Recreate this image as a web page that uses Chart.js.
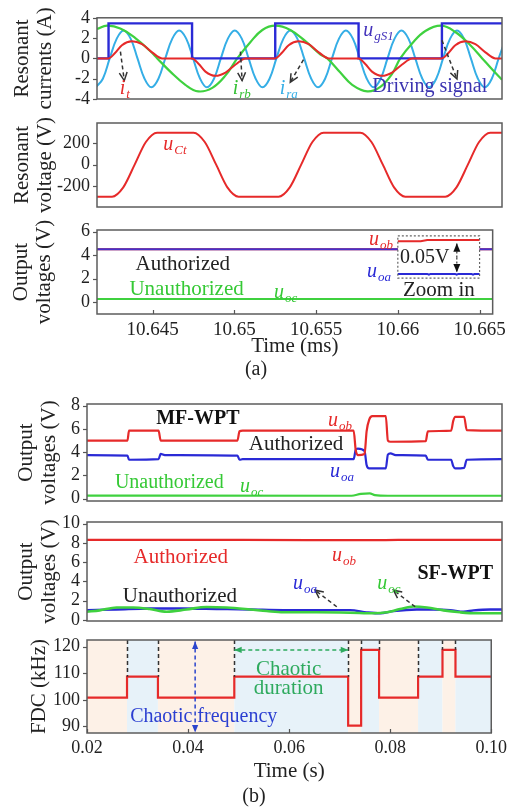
<!DOCTYPE html>
<html>
<head>
<meta charset="utf-8">
<script src="https://cdn.jsdelivr.net/npm/chart.js@4.4.1/dist/chart.umd.min.js"></script>
<style>
  html, body { margin: 0; padding: 0; background: #fff; }
  #wrap { position: relative; width: 511px; height: 808px; overflow: hidden; }
  canvas { position: absolute; left: 0; top: 0; }
</style>
</head>
<body>
<div id="wrap">
  <canvas id="a1" width="511" height="808"></canvas>
  <canvas id="a2" width="511" height="808"></canvas>
  <canvas id="a3" width="511" height="808"></canvas>
  <canvas id="b1" width="511" height="808"></canvas>
  <canvas id="b2" width="511" height="808"></canvas>
  <canvas id="b3" width="511" height="808"></canvas>
</div>
<script>
const SERIF = '"Liberation Serif", "Times New Roman", serif';

// ---------- (a) time axis, ms ----------
const aTicks = [10.645, 10.65, 10.655, 10.66, 10.665];
const aTickLabels = ['10.645', '10.65', '10.655', '10.66', '10.665'];

// driving signal u_gS1
const aGateT = [10.6416, 10.64229, 10.64229, 10.64728, 10.64728, 10.65225, 10.65225, 10.65723, 10.65723, 10.66221, 10.66221, 10.6658];
const aGateV = [0, 0, 3.45, 3.45, 0, 0, 3.45, 3.45, 0, 0, 3.45, 3.45];

// i_t
const aItT = [10.6416, 10.64229, 10.64269, 10.64309, 10.64369, 10.64429, 10.64489, 10.64549,
  10.64728, 10.64768, 10.64808, 10.64868, 10.64928, 10.64988, 10.65048,
  10.65225, 10.65265, 10.65305, 10.65365, 10.65425, 10.65485, 10.65545,
  10.65723, 10.65763, 10.65803, 10.65863, 10.65923, 10.65983, 10.66043,
  10.66221, 10.66261, 10.66301, 10.66361, 10.66421, 10.66481, 10.66541, 10.6658];
const aItV = [0, 0, 0.55, 1.3, 1.68, 1.4, 0.6, 0,
  0, -0.55, -1.3, -1.72, -1.4, -0.6, 0,
  0, 0.55, 1.3, 1.68, 1.4, 0.6, 0,
  0, -0.55, -1.3, -1.72, -1.4, -0.6, 0,
  0, 0.55, 1.3, 1.68, 1.4, 0.6, 0, 0];

// i_rb
const aRbT = [10.6416, 10.6422, 10.64299, 10.64389, 10.64479, 10.6452, 10.64598, 10.64688, 10.64765, 10.64849, 10.64927, 10.64998,
  10.65076, 10.65148, 10.65225, 10.65315, 10.65405, 10.65494, 10.65536, 10.65614, 10.65685, 10.65775, 10.65853, 10.65924, 10.65972,
  10.66044, 10.66122, 10.66217, 10.66301, 10.66391, 10.66462, 10.66522, 10.6658];
const aRbV = [2.9, 3.22, 2.95, 2.0, 0.7, 0, -1.3, -2.6, -3.25, -2.9, -1.7, 0,
  1.6, 2.8, 3.22, 2.8, 1.7, 0.4, 0, -1.4, -2.6, -3.25, -2.8, -1.5, 0,
  1.5, 2.7, 3.22, 2.6, 1.3, 0, -1.1, -2.1];

// i_ra
const aRaT = [10.64153, 10.64195, 10.64236, 10.64278, 10.64319, 10.64361, 10.64402, 10.64444,
  10.64485, 10.64527, 10.64568, 10.6461, 10.64651, 10.64693, 10.64734, 10.64776,
  10.64817, 10.64859, 10.649, 10.64942, 10.64983, 10.65025, 10.65066, 10.65108,
  10.65149, 10.65191, 10.65232, 10.65274, 10.65315, 10.65357, 10.65398, 10.6544,
  10.65481, 10.65523, 10.65564, 10.65606, 10.65647, 10.65689, 10.6573, 10.65772,
  10.65813, 10.65855, 10.65896, 10.65938, 10.65979, 10.66021, 10.66062, 10.66104,
  10.66145, 10.66187, 10.66228, 10.6627, 10.66311, 10.66353, 10.66394, 10.66436,
  10.66477, 10.66519, 10.6656, 10.66602];
const aRaV = [-2.85, -2.0, 0, 1.95, 2.75, 1.95, 0, -2.0,
  -2.85, -2.0, 0, 1.95, 2.75, 1.95, 0, -2.0,
  -2.85, -2.0, 0, 1.95, 2.75, 1.95, 0, -2.0,
  -2.85, -2.0, 0, 1.95, 2.75, 1.95, 0, -2.0,
  -2.85, -2.0, 0, 1.95, 2.75, 1.95, 0, -2.0,
  -2.85, -2.0, 0, 1.95, 2.75, 1.95, 0, -2.0,
  -2.85, -2.0, 0, 1.95, 2.75, 1.95, 0, -2.0,
  -2.85, -2.0, 0, 1.95];

// u_Ct
const aCtT = [10.6416, 10.6425, 10.64317, 10.64385, 10.64452, 10.64519,
  10.64737, 10.64804, 10.64872, 10.64939, 10.65006,
  10.65245, 10.65312, 10.6538, 10.65447, 10.65514,
  10.65733, 10.658, 10.65868, 10.65935, 10.66002,
  10.66241, 10.66308, 10.66376, 10.66443, 10.6651, 10.6658];
const aCtV = [-295, -295, -209, 0, 209, 295,
  295, 209, 0, -209, -295,
  -295, -209, 0, 209, 295,
  295, 209, 0, -209, -295,
  -295, -209, 0, 209, 295, 295];

// output voltages (a)
const aObT = [10.6416, 10.66, 10.6625, 10.665, 10.6658];
const aObV = [4.5, 4.5, null, 4.5, 4.5];
const aOaT = [10.6416, 10.66, 10.6625, 10.665, 10.6658];
const aOaV = [4.5, 4.5, null, 4.5, 4.5];
const aOcT = [10.6416, 10.6658];
const aOcV = [0.27, 0.27];
const aObZoomT = [10.66, 10.6614, 10.6618, 10.665];
const aObZoomV = [5.2, 5.2, 5.3, 5.3];
const aOaZoomT = [10.66, 10.6618, 10.6619, 10.662, 10.6635, 10.6636, 10.6637, 10.6645, 10.6646, 10.6647, 10.665];
const aOaZoomV = [2.4, 2.4, 2.33, 2.4, 2.4, 2.33, 2.4, 2.4, 2.33, 2.4, 2.4];

// ---------- (b) time axis, s ----------
const bTicks = [0.02, 0.04, 0.06, 0.08, 0.1];
const bTickLabels = ['0.02', '0.04', '0.06', '0.08', '0.10'];

const mfObT = [0.02, 0.0278, 0.0281, 0.0338, 0.0342, 0.049, 0.0494, 0.05, 0.0714, 0.0718, 0.0722, 0.0735, 0.0739, 0.0744, 0.075,
  0.0776, 0.078, 0.0785, 0.0853, 0.0857, 0.0902, 0.0906, 0.091, 0.0927, 0.0932, 0.1];
const mfObV = [5.0, 5.0, 5.85, 5.85, 5.0, 5.0, 5.8, 5.85, 5.85, 4.2, 3.75, 3.85, 5.8, 6.8, 7.1,
  7.1, 5.0, 4.9, 4.95, 5.8, 5.85, 6.7, 7.05, 7.05, 5.9, 5.85];
const mfOaT = [0.02, 0.0278, 0.0281, 0.0338, 0.0342, 0.035, 0.049, 0.0494, 0.05, 0.0714, 0.0718, 0.0722, 0.0735, 0.0739, 0.0744,
  0.0776, 0.078, 0.0785, 0.0795, 0.0853, 0.0857, 0.0902, 0.0906, 0.091, 0.0927, 0.0932, 0.1];
const mfOaV = [3.75, 3.7, 3.35, 3.4, 3.85, 3.75, 3.7, 3.35, 3.4, 3.4, 4.2, 4.3, 4.1, 2.9, 2.6,
  2.6, 3.8, 3.9, 3.75, 3.7, 3.35, 3.35, 2.8, 2.6, 2.65, 3.35, 3.4];
const mfOcT = [0.02, 0.071, 0.0728, 0.0745, 0.0755, 0.078, 0.1];
const mfOcV = [0.27, 0.25, 0.42, 0.45, 0.3, 0.25, 0.25];

const sfObT = [0.02, 0.05, 0.075, 0.08, 0.1];
const sfObV = [8.32, 8.32, 8.28, 8.32, 8.32];
const sfOaT = [0.02, 0.02567, 0.0321, 0.03853, 0.04498, 0.05141, 0.05784, 0.06429, 0.07071, 0.07394, 0.07651, 0.07907,
  0.08359, 0.0868, 0.09002, 0.09259, 0.09452, 0.09774, 0.1];
const sfOaV = [1.03, 1.1, 1.2, 1.2, 1.15, 1.1, 1.03, 1.03, 1.03, 0.8, 0.7, 0.93,
  1.1, 1.1, 1.03, 0.86, 1.0, 1.1, 1.1];
const sfOcT = [0.02, 0.02245, 0.0257, 0.02888, 0.0321, 0.03533, 0.03919, 0.04305, 0.04691, 0.05141, 0.05463, 0.05784,
  0.06429, 0.07071, 0.07521, 0.0778, 0.08037, 0.08293, 0.08552, 0.08872, 0.09195, 0.09517, 0.1];
const sfOcV = [0.86, 1.0, 1.3, 1.3, 1.14, 0.86, 1.1, 1.36, 1.3, 1.1, 0.93, 0.8,
  0.8, 0.76, 0.7, 0.8, 1.14, 1.4, 1.3, 1.0, 0.8, 0.7, 0.7];

// FDC frequency steps (kHz), value holds from each time until the next
const fdcT = [0.02, 0.02792, 0.03404, 0.04915, 0.07168, 0.07425, 0.0778, 0.08552, 0.09035, 0.09292, 0.1];
const fdcV = [100.8, 108.7, 100.8, 108.7, 90.3, 118.8, 100.8, 108.7, 118.8, 108.7, 108.7];

// ---------- drawing helpers ----------
function drawLabel(ctx, X, Y, l) {
  const size = l.size || 20;
  ctx.fillStyle = l.color || '#222';
  ctx.textBaseline = 'middle';
  if (l.sub) {
    const f1 = `italic ${size}px ${SERIF}`;
    const f2 = `italic ${Math.round(size * 0.66)}px ${SERIF}`;
    ctx.font = f1;
    const w1 = ctx.measureText(l.text).width;
    ctx.font = f2;
    const w2 = ctx.measureText(l.sub).width;
    const sx = l.align === 'center' ? X - (w1 + w2) / 2 : X;
    ctx.textAlign = 'left';
    ctx.font = f1;
    ctx.fillText(l.text, sx, Y);
    ctx.font = f2;
    ctx.fillText(l.sub, sx + w1 + 1, Y + size * 0.3);
  } else {
    ctx.font = `${l.bold ? 'bold ' : ''}${size}px ${SERIF}`;
    ctx.textAlign = l.align || 'center';
    ctx.fillText(l.text, X, Y);
  }
}

function drawHead(ctx, X, Y, ang, s) {
  const L = s.len || 9, W = s.open ? 0.45 : 0.4;
  const ax = X - L * Math.cos(ang - W), ay = Y - L * Math.sin(ang - W);
  const bx = X - L * Math.cos(ang + W), by = Y - L * Math.sin(ang + W);
  ctx.beginPath();
  ctx.moveTo(ax, ay);
  ctx.lineTo(X, Y);
  ctx.lineTo(bx, by);
  if (s.open) {
    ctx.stroke();
  } else {
    ctx.closePath();
    ctx.fill();
  }
}

function drawArrow(ctx, X0, Y0, X1, Y1, s) {
  ctx.strokeStyle = s.color;
  ctx.fillStyle = s.color;
  ctx.lineWidth = s.width || 1.5;
  ctx.setLineDash(s.dash || []);
  ctx.beginPath();
  ctx.moveTo(X0, Y0);
  ctx.lineTo(X1, Y1);
  ctx.stroke();
  ctx.setLineDash([]);
  const ang = Math.atan2(Y1 - Y0, X1 - X0);
  drawHead(ctx, X1, Y1, ang, s);
  if (s.both) drawHead(ctx, X0, Y0, ang + Math.PI, s);
}

const decorCfg = {};

const decor = {
  id: 'decor',
  beforeDatasetsDraw(chart) {
    const o = decorCfg[chart.canvas.id];
    if (!o || !o.bands) return;
    const {ctx, chartArea: a, scales: {x}} = chart;
    ctx.save();
    for (let i = 0; i < o.bands.length - 1; i++) {
      const x0 = x.getPixelForValue(o.bands[i]);
      const x1 = x.getPixelForValue(o.bands[i + 1]);
      ctx.fillStyle = i % 2 === 0 ? '#fdf1e7' : '#e7f2f9';
      ctx.fillRect(x0, a.top, x1 - x0, a.height);
    }
    ctx.restore();
  },
  afterDatasetsDraw(chart) {
    const o = decorCfg[chart.canvas.id] || {};
    const {ctx, chartArea: a, scales: {x, y}} = chart;
    const X = v => x.getPixelForValue(v), Y = v => y.getPixelForValue(v);
    ctx.save();

    // dashed drop lines at frequency switches
    if (o.drops) {
      ctx.strokeStyle = '#333';
      ctx.lineWidth = 1.5;
      ctx.setLineDash([4, 3]);
      for (let i = 1; i < o.drops.t.length - 1; i++) {
        const px = Math.round(X(o.drops.t[i])) + 0.5;
        const top = Math.max(o.drops.v[i - 1], o.drops.v[i]);
        ctx.beginPath();
        ctx.moveTo(px, a.top);
        ctx.lineTo(px, Y(top));
        ctx.stroke();
      }
      ctx.setLineDash([]);
    }

    if (o.rect) {
      ctx.strokeStyle = '#666';
      ctx.lineWidth = 1.2;
      ctx.setLineDash([2, 2]);
      const r = o.rect;
      ctx.strokeRect(X(r.x0), Y(r.y1), X(r.x1) - X(r.x0), Y(r.y0) - Y(r.y1));
      ctx.setLineDash([]);
    }

    (o.arrows || []).forEach(s => drawArrow(ctx, X(s.x0), Y(s.y0), X(s.x1), Y(s.y1), s));

    // frame, outward y ticks, inward x ticks
    ctx.setLineDash([]);
    ctx.strokeStyle = '#5c5c5c';
    ctx.lineWidth = 1.5;
    ctx.strokeRect(a.left, a.top, a.width, a.height);
    ctx.strokeStyle = '#555';
    ctx.lineWidth = 1.2;
    y.ticks.forEach(t => {
      const p = Math.round(Y(t.value)) + 0.5;
      ctx.beginPath();
      ctx.moveTo(a.left, p); ctx.lineTo(a.left - 4, p);
      ctx.stroke();
    });
    if (x.options.display) {
      x.ticks.forEach(t => {
        const p = Math.round(X(t.value)) + 0.5;
        ctx.beginPath();
        ctx.moveTo(p, a.bottom); ctx.lineTo(p, a.bottom - 4);
        ctx.stroke();
      });
    }

    (o.labels || []).forEach(l => drawLabel(ctx, X(l.x), Y(l.y), l));
    if (o.caption) drawLabel(ctx, o.caption.px, o.caption.py, o.caption);
    ctx.restore();
  }
};

function series(t, v, color, width, mode) {
  return {
    data: t.map((tt, i) => ({x: tt, y: v[i]})),
    borderColor: color,
    borderWidth: width,
    pointRadius: 0,
    fill: false,
    spanGaps: false,
    tension: mode === 'smooth' ? 0.4 : 0,
    cubicInterpolationMode: mode === 'mono' ? 'monotone' : 'default',
    stepped: mode === 'step' ? 'before' : false,
  };
}

// box = [left, top, right, bottom] of the plot frame in page pixels
function makePanel(id, cfg) {
  decorCfg[id] = cfg.decor || {};
  const xh = cfg.xTitle ? cfg.xh : 0;
  return new Chart(document.getElementById(id), {
    type: 'line',
    data: {datasets: cfg.datasets},
    options: {
      responsive: false,
      animation: false,
      devicePixelRatio: 1,
      layout: {padding: {top: cfg.box[1], bottom: 808 - cfg.box[3] - xh, left: 0, right: 511 - cfg.box[2]}},
      plugins: {legend: {display: false}, tooltip: {enabled: false}},
      scales: {
        x: {
          type: 'linear',
          min: cfg.xMin,
          max: cfg.xMax,
          display: !!cfg.xTitle,
          grid: {display: false, drawTicks: false},
          border: {display: false},
          afterFit: s => { s.height = xh; },
          afterBuildTicks: s => { s.ticks = cfg.xTicks.map(v => ({value: v})); },
          ticks: {
            padding: cfg.xPad || 4,
            maxRotation: 0,
            autoSkip: false,
            color: '#222',
            font: {family: SERIF, size: cfg.xFont || 18},
            callback: (v, i) => cfg.xLabels[i],
          },
          title: {display: !!cfg.xTitle, text: cfg.xTitle, color: '#222', font: {family: SERIF, size: 21}, padding: 0},
        },
        y: {
          min: cfg.yMin,
          max: cfg.yMax,
          grid: {display: false, drawTicks: false},
          border: {display: false},
          afterFit: s => { s.width = cfg.box[0]; },
          afterBuildTicks: s => { s.ticks = cfg.yTicks.map(v => ({value: v})); },
          ticks: {padding: 7, autoSkip: false, color: '#222', font: {family: SERIF, size: 18}},
          title: {
            display: true,
            text: cfg.yTitle,
            color: '#222',
            font: {family: SERIF, size: 21, lineHeight: 1.1},
            padding: {top: cfg.yTitlePad, bottom: 0},
          },
        },
      },
    },
    plugins: [decor],
  });
}

const RED = '#e62a2a', BLUE = '#2a2ad6', GREEN = '#3fd13f', CYAN = '#35aee6';
const A_LEFT = 97, B_LEFT = 87, RIGHT = 502;

makePanel('a1', {
  box: [A_LEFT, 15, RIGHT, 99],
  xMin: 10.6416, xMax: 10.6658, xTicks: aTicks, xLabels: aTickLabels,
  yMin: -4, yMax: 4, yTicks: [-4, -2, 0, 2, 4],
  yTitle: ['Resonant', 'currents (A)'], yTitlePad: 11,
  datasets: [
    series(aItT, aItV, RED, 2, 'mono'),
    series(aGateT, aGateV, BLUE, 2.4, 'line'),
    series(aRbT, aRbV, GREEN, 2.2, 'smooth'),
    series(aRaT, aRaV, CYAN, 2, 'smooth'),
  ],
  decor: {
    arrows: [
      {x0: 10.643, y0: 0.67, x1: 10.64323, y1: -2.19, color: '#333', dash: [4, 3], open: true},
      {x0: 10.65017, y0: 0.67, x1: 10.65027, y1: -2.19, color: '#333', dash: [4, 3], open: true},
      {x0: 10.65394, y0: -0.12, x1: 10.65315, y1: -2.35, color: '#333', dash: [4, 3], open: true},
      {x0: 10.66221, y0: 1.78, x1: 10.66311, y1: -2.03, color: '#333', dash: [4, 3], open: true},
    ],
    labels: [
      {x: 10.65751, y: 2.75, text: 'u', sub: 'gS1', color: '#4433bb', align: 'left'},
      {x: 10.64323, y: -2.95, text: 'i', sub: 't', color: RED, align: 'center'},
      {x: 10.65022, y: -2.95, text: 'i', sub: 'rb', color: '#33c033', align: 'center'},
      {x: 10.65303, y: -2.95, text: 'i', sub: 'ra', color: CYAN, align: 'center'},
      {x: 10.65805, y: -2.83, text: 'Driving signal', color: '#3b33b0', align: 'left', size: 20},
    ],
  },
});

makePanel('a2', {
  box: [A_LEFT, 123, RIGHT, 207],
  xMin: 10.6416, xMax: 10.6658, xTicks: aTicks, xLabels: aTickLabels,
  yMin: -390, yMax: 384, yTicks: [-200, 0, 200],
  yTitle: ['Resonant', 'voltage (V)'], yTitlePad: 11,
  datasets: [series(aCtT, aCtV, RED, 2, 'mono')],
  decor: {
    labels: [{x: 10.64556, y: 184, text: 'u', sub: 'Ct', color: RED, align: 'left'}],
  },
});

makePanel('a3', {
  box: [A_LEFT, 230, RIGHT, 314],
  xMin: 10.6416, xMax: 10.6658, xTicks: aTicks, xLabels: aTickLabels,
  xTitle: 'Time (ms)', xh: 45, xPad: 5, xFont: 19,
  yMin: -1.02, yMax: 6.15, yTicks: [0, 2, 4, 6],
  yTitle: ['Output', 'voltages (V)'], yTitlePad: 10,
  datasets: [
    series(aOaT, aOaV, '#4630c8', 2, 'line'),
    series(aObT, aObV, RED, 2, 'line'),
    series(aOcT, aOcV, GREEN, 2, 'line'),
    series(aObZoomT, aObZoomV, RED, 2, 'line'),
    series(aOaZoomT, aOaZoomV, BLUE, 2, 'line'),
  ],
  decor: {
    rect: {x0: 10.66, x1: 10.665, y0: 2.05, y1: 5.65},
    arrows: [
      {x0: 10.66361, y0: 3.8, x1: 10.66361, y1: 5.01, color: '#111', width: 1, dash: [2, 2], len: 9},
      {x0: 10.66361, y0: 3.8, x1: 10.66361, y1: 2.55, color: '#111', width: 1, dash: [2, 2], len: 9},
    ],
    labels: [
      {x: 10.64685, y: 3.23, text: 'Authorized', color: '#222', size: 21},
      {x: 10.64708, y: 1.05, text: 'Unauthorized', color: '#35c935', size: 21},
      {x: 10.65243, y: 0.82, text: 'u', sub: 'oc', color: '#35c935', align: 'left'},
      {x: 10.65823, y: 5.3, text: 'u', sub: 'ob', color: RED, align: 'left'},
      {x: 10.65811, y: 2.62, text: 'u', sub: 'oa', color: BLUE, align: 'left'},
      {x: 10.66165, y: 3.76, text: '0.05V', color: '#222', size: 20},
      {x: 10.66251, y: 0.96, text: 'Zoom in', color: '#222', size: 21},
    ],
    caption: {px: 256, py: 370, text: '(a)', color: '#222', size: 20},
  },
});

makePanel('b1', {
  box: [B_LEFT, 404, RIGHT, 501],
  xMin: 0.02, xMax: 0.1, xTicks: bTicks, xLabels: bTickLabels,
  yMin: -0.2, yMax: 8.15, yTicks: [0, 2, 4, 6, 8],
  yTitle: ['Output', 'voltages (V)'], yTitlePad: 15,
  datasets: [
    series(mfObT, mfObV, RED, 2.2, 'mono'),
    series(mfOaT, mfOaV, BLUE, 2.2, 'mono'),
    series(mfOcT, mfOcV, GREEN, 2.2, 'mono'),
  ],
  decor: {
    labels: [
      {x: 0.04137, y: 6.84, text: 'MF-WPT', bold: true, color: '#111', size: 20},
      {x: 0.06647, y: 6.72, text: 'u', sub: 'ob', color: RED, align: 'left'},
      {x: 0.06029, y: 4.63, text: 'Authorized', color: '#222', size: 21},
      {x: 0.06685, y: 2.34, text: 'u', sub: 'oa', color: BLUE, align: 'left'},
      {x: 0.03587, y: 1.35, text: 'Unauthorized', color: '#35c935', size: 20},
      {x: 0.04948, y: 1.05, text: 'u', sub: 'oc', color: '#35c935', align: 'left'},
    ],
  },
});

makePanel('b2', {
  box: [B_LEFT, 522, RIGHT, 621],
  xMin: 0.02, xMax: 0.1, xTicks: bTicks, xLabels: bTickLabels,
  yMin: -0.1, yMax: 10.17, yTicks: [0, 2, 4, 6, 8, 10],
  yTitle: ['Output', 'voltages (V)'], yTitlePad: 15,
  datasets: [
    series(sfOcT, sfOcV, GREEN, 2.6, 'mono'),
    series(sfOaT, sfOaV, BLUE, 2.4, 'mono'),
    series(sfObT, sfObV, RED, 2.2, 'mono'),
  ],
  decor: {
    arrows: [
      {x0: 0.06815, y0: 1.38, x1: 0.06396, y1: 3.1, color: '#333', dash: [4, 3], open: true},
      {x0: 0.08326, y0: 1.38, x1: 0.07907, y1: 3.1, color: '#333', dash: [4, 3], open: true},
    ],
    labels: [
      {x: 0.03809, y: 6.48, text: 'Authorized', color: RED, size: 21},
      {x: 0.06724, y: 6.72, text: 'u', sub: 'ob', color: RED, align: 'left'},
      {x: 0.09099, y: 4.76, text: 'SF-WPT', bold: true, color: '#111', size: 20},
      {x: 0.05971, y: 3.8, text: 'u', sub: 'oa', color: BLUE, align: 'left'},
      {x: 0.07593, y: 3.8, text: 'u', sub: 'oc', color: '#35c935', align: 'left'},
      {x: 0.0379, y: 2.41, text: 'Unauthorized', color: '#222', size: 21},
    ],
  },
});

makePanel('b3', {
  box: [B_LEFT, 640, RIGHT, 733],
  xMin: 0.02, xMax: 0.1, xTicks: bTicks, xLabels: bTickLabels,
  xTitle: 'Time (s)', xh: 51, xPad: 4, xFont: 18,
  yMin: 87.5, yMax: 122.5, yTicks: [90, 100, 110, 120],
  yTitle: 'FDC (kHz)', yTitlePad: 28,
  datasets: [series(fdcT, fdcV, RED, 2.2, 'step')],
  decor: {
    bands: fdcT,
    drops: {t: fdcT, v: fdcV},
    arrows: [
      {x0: 0.0414, y0: 121.9, x1: 0.0414, y1: 87.7, color: '#2a44cc', dash: [4, 3], both: true, len: 8},
      {x0: 0.04915, y0: 118.75, x1: 0.07168, y1: 118.75, color: '#2eaa5e', dash: [4, 3], both: true, len: 8},
    ],
    labels: [
      {x: 0.0599, y: 111.5, text: 'Chaotic', color: '#2eaa5e', size: 21},
      {x: 0.0599, y: 104.4, text: 'duration', color: '#2eaa5e', size: 21},
      {x: 0.0431, y: 93.75, text: 'Chaotic frequency', color: '#2b3fd1', size: 20},
    ],
    caption: {px: 254, py: 797, text: '(b)', color: '#222', size: 20},
  },
});
</script>
</body>
</html>
